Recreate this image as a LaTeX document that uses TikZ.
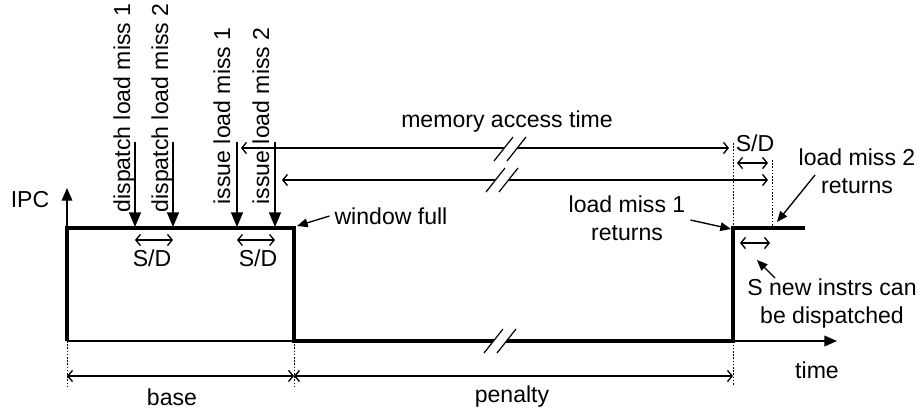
\documentclass[tikz,border=0pt]{standalone}
\usepackage{fontspec}
\setmainfont{Liberation Sans}
\usetikzlibrary{arrows.meta,calc,positioning}

\begin{document}
\begin{tikzpicture}[x=0.75pt, y=-0.75pt, line width=1pt,
            font=\fontsize{17.3}{21}\selectfont,
            ipc/.style={line width=3pt, line join=miter},
            tick/.style={-{Triangle[length=11pt,width=9pt]}},
            axis/.style={-{Triangle[length=9.5pt,width=8pt]}},
            note/.style={-{Triangle[length=8pt,width=6.5pt]}},
            span/.style={{Straight Barb[length=3.5pt,width=8.5pt]}-{Straight Barb[length=3.5pt,width=8.5pt]}},
            guide/.style={line width=.5pt, dash pattern=on 1.2pt off 1.2pt},
            vlabel/.style={rotate=90, anchor=base west, inner sep=0},
            brk/.pic={
            \fill[white] (-16,12) -- (3,-12) -- (16,-12) -- (-3,12) -- cycle;
            \draw[line width=.9pt] (-16,12) -- (3,-12) (-3,12) -- (16,-12);}]

           \useasboundingbox (0,0) rectangle (922,412);

           % axes and step corners
           \coordinate (o) at (67,341);
           \coordinate (ytip) at (67,188);
           \coordinate (xtip) at (837,341);
           \coordinate (tl) at (67,228);
           \coordinate (tr) at (294,228);
           \coordinate (br) at (294,341);
           \coordinate (pr) at (733,341);
           \coordinate (rt) at (733,228);
           \coordinate (re) at (805,228);

           % dotted guides
           \coordinate (g0) at (67,386);
           \coordinate (g1) at (294,386);
           \coordinate (g2top) at (733,143);
           \coordinate (g2) at (733,386);
           \coordinate (g3top) at (772,160);
           \coordinate (g3) at (772,226);
           \draw[guide] (o) -- (g0);
           \draw[guide] (br) -- (g1);
           \draw[guide] (g2top) -- (g2);
           \draw[guide] (g3top) -- (g3);

           \draw[axis] (o) -- (ytip);
           \draw[axis] (o) -- (xtip);
           \node (ipc) at (30,200) {IPC};
           \node (time) at (817,370) {time};

           \draw[ipc] (o) -- (tl) -- (tr) -- (br) -- (pr) -- (rt) -- (re);
           \pic at (500,341) {brk};

           % dispatch / issue events
           \foreach \n/\x/\b/\y/\txt in {d1/135/130/213/dispatch load miss 1,
                                         d2/173/168/213/dispatch load miss 2,
                                         i1/237/230/205/issue load miss 1,
                                         i2/275/269/205/issue load miss 2}
           {
                      \coordinate (\n top) at (\x,142);
                      \coordinate (\n) at (\x,227);
                      \draw[tick] (\n top) -- (\n);
                      \node[vlabel] (\n txt) at (\b,\y) {\txt};
                  }

           % S/D between dispatch and issue pairs
           \coordinate (sd1a) at (135,240);
           \coordinate (sd1b) at (173,240);
           \draw[span] (sd1a) -- (sd1b);
           \node (sd1) at (152,258) {S/D};
           \coordinate (sd2a) at (237,240);
           \coordinate (sd2b) at (275,240);
           \draw[span] (sd2a) -- (sd2b);
           \node (sd2) at (258,258) {S/D};

           % memory access time
           \node (mem) at (507,122) {memory access time};
           \coordinate (m1a) at (241,148);
           \coordinate (m1b) at (729,148);
           \draw[span] (m1a) -- (m1b);
           \pic at (510,149) {brk};
           \coordinate (m2a) at (282,180);
           \coordinate (m2b) at (768,180);
           \draw[span] (m2a) -- (m2b);
           \pic at (502,180) {brk};

           \node (sd3) at (755,143) {S/D};
           \coordinate (sd3a) at (737,163);
           \coordinate (sd3b) at (768,163);
           \draw[span] (sd3a) -- (sd3b);

           % annotations
           \node (wfull) at (391,216) {window full};
           \coordinate (wfend) at (297,226);
           \draw[note] (wfull.west) -- (wfend);

           \node[align=center] (lm1) at (627,218) {load miss 1\\returns};
           \coordinate (lm1end) at (731,229);
           \draw[note] ($(lm1.east)+(0,2)$) -- (lm1end);

           \node[align=center] (lm2) at (857,171) {load miss 2\\returns};
           \coordinate (lm2start) at (815,175);
           \coordinate (lm2end) at (777,222);
           \draw[note] (lm2start) -- (lm2end);

           \coordinate (sd4a) at (740,243);
           \coordinate (sd4b) at (770,243);
           \draw[span] (sd4a) -- (sd4b);
           \node[align=center] (snew) at (832,304) {S new instrs can\\be dispatched};
           \coordinate (snstart) at (775,278);
           \coordinate (snend) at (757,260);
           \draw[note] (snstart) -- (snend);

           % base and penalty spans
           \coordinate (b0) at (67,376);
           \coordinate (b1) at (294,376);
           \coordinate (b2) at (733,376);
           \draw[span] (b0) -- (b1);
           \draw[span] (b1) -- (b2);
           \node (base) at (172,397) {base};
           \node (pen) at (512,397) {penalty};
\end{tikzpicture}
\end{document}
